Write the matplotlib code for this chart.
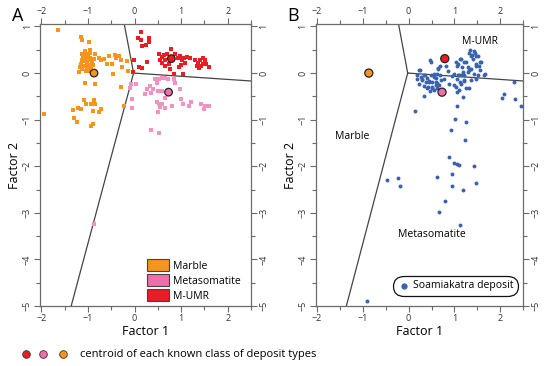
import matplotlib
matplotlib.use("Agg")
import matplotlib.pyplot as plt
from matplotlib.patches import Patch
from matplotlib.lines import Line2D
from matplotlib.ticker import MultipleLocator

plt.rcParams['font.family'] = ['Open Sans', 'DejaVu Sans']

# ---------------- data ----------------
marble_x = [-1.64, -1.145, -1.13, -0.97, -1.07, -0.96,
            -1.10, -1.05, -1.00, -0.95, -1.12, -1.07, -1.02, -0.97, -0.92, -1.15, -1.08, -1.03,
            -0.98, -0.93, -1.12, -1.05, -0.88, -0.90, -1.18, -1.00, -1.06, -0.85, -1.13, -0.96,
            -1.20, -0.97,
            -0.77, -0.72, -0.645, -0.59, -0.55, -0.48, -0.43, -0.39, -0.34, -0.30, -0.27, -0.17,
            -0.145, -0.46, -1.07, -0.84, -0.28, -1.94,
            -1.09, -1.05, -0.87, -0.84, -0.94, -1.32, -1.21, -1.16, -0.89, -0.77, -0.73,
            -1.30, -1.24, -0.94, -0.89, -0.22]
marble_y = [0.915, 0.77, 0.70, 0.67, 0.47, 0.49,
            0.35, 0.40, 0.38, 0.33, 0.28, 0.25, 0.22, 0.27, 0.23, 0.20, 0.15, 0.12,
            0.17, 0.13, 0.08, 0.05, 0.30, 0.18, 0.13, 0.30, 0.32, 0.40, 0.42, 0.44,
            0.03, 0.05,
            0.33, 0.27, 0.31, 0.20, 0.365, 0.19, 0.39, 0.33, 0.37, 0.27, 0.13, 0.26,
            0.04, -0.01, -0.21, -0.23, -0.29, -0.88,
            -0.58, -0.67, -0.58, -0.67, -0.67, -0.80, -0.76, -0.78, -0.81, -0.83, -0.78,
            -0.96, -1.04, -1.13, -1.10, -0.71]

mumr_x = [0.14, 0.076, 0.148, 0.32, 0.305, 0.25, 0.16, -0.016, 0.09, 0.16, 0.27, -0.04,
          0.79, 0.52, 0.58, 0.63, 0.555, 0.70, 0.66, 0.59, 0.65, 0.73, 0.77, 0.84, 0.876,
          0.93, 0.98, 1.02, 1.055, 1.09, 1.125, 1.20, 1.00, 0.95, 1.03,
          1.30, 1.36, 1.41, 1.46, 1.52, 1.43, 1.39, 1.48, 1.53, 1.60, 1.34]
mumr_y = [0.886, 0.743, 0.72, 0.76, 0.67, 0.60, 0.58, 0.29, 0.13, 0.10, 0.24, 0.03,
          0.51, 0.40, 0.34, 0.39, 0.29, 0.415, 0.27, 0.22, 0.15, 0.20, 0.08, -0.013, 0.40,
          0.33, 0.37, 0.27, 0.33, 0.22, 0.34, 0.315, 0.17, 0.13, -0.03,
          0.27, 0.22, 0.29, 0.33, 0.27, 0.15, 0.115, 0.20, 0.19, 0.13, 0.15]

meta_x = [-0.07, 0.03, -0.05, 0.45, 0.52, 0.59, 0.66, 0.72, 0.84, 0.875, 0.48, 0.34, 0.39,
          0.27, 0.22, 0.36, 0.50, 0.58, 0.98, 0.48, 0.52, 0.58, 0.555, 0.50, 0.65, 0.80,
          1.03, 1.175, 1.22, 1.43, 1.52, 1.59, 1.50, 0.66, 0.36, 0.53, 1.00, -0.09, -0.05,
          -0.86]
meta_y = [-0.24, -0.24, -0.56, -0.135, -0.135, -0.11, -0.11, -0.135, -0.135, -0.21, -0.21,
          -0.28, -0.35, -0.35, -0.44, -0.42, -0.38, -0.38, -0.35, -0.63, -0.67, -0.66, -0.73,
          -0.83, -0.74, -0.71, -0.67, -0.71, -0.63, -0.66, -0.71, -0.71, -0.78, -0.53, -1.23,
          -1.28, -0.56, -0.33, -0.76, -3.24]

# centroids: Marble, Metasomatite, M-UMR
cent_names = ['Marble', 'Metasomatite', 'M-UMR']
cent_x = [-0.87, 0.73, 0.79]
cent_y = [0.0, -0.41, 0.31]

soam_x = [0.49, 0.236, 0.184, 0.33, 0.148, 0.648, 0.68, 0.85,
          1.03, 1.07, 1.14, 1.21, 1.325, 1.36, 1.44, 1.47, 1.40, 1.29, 1.325, 1.47, 1.545,
          1.58, 1.66, 1.56, 1.18, 1.09, 1.0, 1.21, 1.14, 1.03, 1.09, 1.325, 1.36, 1.47,
          0.88, 0.77, 1.18,
          2.30, 2.075, 2.03, 2.32, 2.465,
          1.05, 1.01, 1.25, 0.935, 1.237, 0.884, 0.994, 1.05, 1.11, 1.43,
          -0.477, -0.24, -0.198, 0.61, 0.958, 0.958, 1.19, 1.47, 0.79, 0.66, 1.12, -0.905,
          0.244, 0.64, 0.185, 0.26, 0.33, 0.406, 0.48, 0.553, 0.59, 0.296, 0.37, 0.443,
          0.516, 0.627, 0.222, 0.33, 0.42, 0.516, 0.59, 0.70, 0.465, 0.553, 0.627, 0.686,
          0.81, 1.08, 1.053, 1.127, 1.25,
          0.464, 1.126, 1.05, 1.177, 1.25, 1.347, 1.376, 1.42, 1.51, 1.567, 1.472, 1.362,
          1.288, 1.215, 1.435, 1.51, 1.64, 1.215, 1.067, 0.957, 0.99, 1.14,
          0.295, 0.368, 0.442, 0.552, 0.626, 0.589, 0.66, 0.516, 0.405]
soam_y = [0.23, 0.056, -0.12, -0.49, -0.824, 0.09, 0.16, 0.035,
          0.247, 0.20, 0.30, 0.23, 0.44, 0.375, 0.44, 0.375, 0.30, 0.13, 0.06, 0.20, 0.16,
          0.23, -0.01, 0.056, 0.02, -0.035, -0.014, -0.155, -0.225, -0.295, -0.37, -0.33,
          -0.155, -0.12, -0.225, -0.134, -0.51,
          -0.20, -0.46, -0.54, -0.56, -0.705,
          -0.70, -0.99, -1.04, -1.23, -1.445, -1.80, -1.92, -1.95, -1.966, -1.99,
          -2.30, -2.255, -2.43, -2.23, -2.16, -2.42, -2.50, -2.35, -2.74, -2.99, -3.27, -4.90,
          0.056, 0.105, -0.05, -0.085, -0.05, -0.106, -0.05, -0.014, -0.106, -0.155, -0.19,
          -0.177, -0.19, -0.205, -0.226, -0.275, -0.296, -0.32, -0.26, -0.155, -0.39, -0.37,
          -0.33, -0.036, 0.16, -0.05, -0.40, -0.19, -0.33,
          0.27, 0.30, 0.16, 0.127, 0.232, 0.50, 0.387, 0.479, 0.36, 0.232, 0.16, 0.091,
          0.02, -0.05, -0.014, -0.05, -0.05, -0.177, -0.12, -0.064, -0.26, -0.05,
          -0.12, -0.05, -0.19, -0.085, -0.014, -0.19, -0.26, -0.30, -0.33]

# class boundary lines (from centre point to edges)
bound_x = [[-0.22, -0.02], [-0.02, 2.5], [-0.02, -1.36]]
bound_y = [[1.05, 0.0], [0.0, -0.17], [0.0, -5.0]]

# ---------------- style ----------------
c_marble = '#F7941D'
c_meta = '#F06EAA'
c_meta_pts = '#F292C2'
c_mumr = '#EC1C24'
c_blue = '#3A63AE'
cent_colors = [c_marble, c_meta, c_mumr]
axcol = '#6b6b6b'

fig = plt.figure(figsize=(5.5, 3.66), dpi=100)
axA = fig.add_axes([0.0727, 0.164, 0.3836, 0.770])
axB = fig.add_axes([0.574, 0.164, 0.377, 0.770])


def style(ax):
    ax.set_xlim(-2.03, 2.5)
    ax.set_ylim(-5.0, 1.05)
    ax.xaxis.set_major_locator(MultipleLocator(1))
    ax.xaxis.set_minor_locator(MultipleLocator(0.5))
    ax.yaxis.set_major_locator(MultipleLocator(1))
    ax.yaxis.set_minor_locator(MultipleLocator(0.5))
    ax.tick_params(which='both', direction='out', top=True, right=True,
                   labeltop=True, labelright=True, color=axcol, labelcolor='#333333',
                   labelsize=6.5, pad=2, width=0.8)
    ax.tick_params(which='major', length=4)
    ax.tick_params(which='minor', length=3)
    ax.yaxis.set_tick_params(labelrotation=90)
    for s in ax.spines.values():
        s.set_color(axcol)
        s.set_linewidth(0.9)
    for bx, by in zip(bound_x, bound_y):
        ax.plot(bx, by, color='#444444', lw=0.9, zorder=2)
    ax.set_xlabel('Factor 1', fontsize=9, labelpad=1)
    ax.set_ylabel('Factor 2', fontsize=9, labelpad=1)


style(axA)
style(axB)
for ax in (axA, axB):
    for lab in ax.get_yticklabels(which='both'):
        lab.set_va('center')

# panel A
axA.scatter(marble_x, marble_y, marker='s', s=5, color=c_marble, lw=0, zorder=3)
axA.scatter(meta_x, meta_y, marker='s', s=5, color=c_meta_pts, lw=0, zorder=3)
axA.scatter(mumr_x, mumr_y, marker='s', s=5, color=c_mumr, lw=0, zorder=3)
axA.scatter(cent_x, cent_y, s=30, c=cent_colors, edgecolors='#222222', linewidths=0.9, zorder=4)
handles = [Patch(facecolor=c, edgecolor='#444444', lw=0.8, label=n)
           for c, n in zip(cent_colors, cent_names)]
axA.legend(handles=handles, loc='lower right', frameon=False, fontsize=7.5,
           handlelength=2.1, handleheight=1.4, handletextpad=0.4, labelspacing=0.25,
           borderaxespad=0.0, bbox_to_anchor=(0.97, 0.0))

# panel B
axB.scatter(soam_x, soam_y, s=8, color=c_blue, lw=0, zorder=3, label='Soamiakatra deposit')
axB.scatter(cent_x, cent_y, s=34, c=cent_colors, edgecolors='#222222', linewidths=0.9, zorder=4)
axB.text(1.55, 0.68, 'M-UMR', fontsize=7.5, ha='center', va='center')
axB.text(-1.23, -1.37, 'Marble', fontsize=7.5, ha='center', va='center')
axB.text(0.5, -3.47, 'Metasomatite', fontsize=7.5, ha='center', va='center')
legB = axB.legend(loc='lower right', fontsize=7.5, handletextpad=0.2, borderpad=0.35,
                  markerscale=1.6, handlelength=1.2, fancybox=True, framealpha=1,
                  bbox_to_anchor=(0.995, 0.02))
legB.get_frame().set_edgecolor('#111111')
legB.get_frame().set_linewidth(0.9)
legB.get_frame().set_boxstyle('round', pad=0.1, rounding_size=1.0)

# panel letters
fig.text(0.022, 0.955, 'A', fontsize=13, ha='left', va='center')
fig.text(0.522, 0.955, 'B', fontsize=13, ha='left', va='center')

# bottom centroid note
yb = 1 - 354 / 366
for xp, c in zip([25.7, 43, 63], [c_mumr, c_meta, c_marble]):
    fig.add_artist(Line2D([xp / 550], [yb], marker='o', markersize=5.5, color=c,
                          markeredgecolor='#333333', markeredgewidth=0.6, transform=fig.transFigure))
fig.text(80 / 550, yb, 'centroid of each known class of deposit types', fontsize=8,
         ha='left', va='center')

fig.savefig('out.png', dpi=100)
